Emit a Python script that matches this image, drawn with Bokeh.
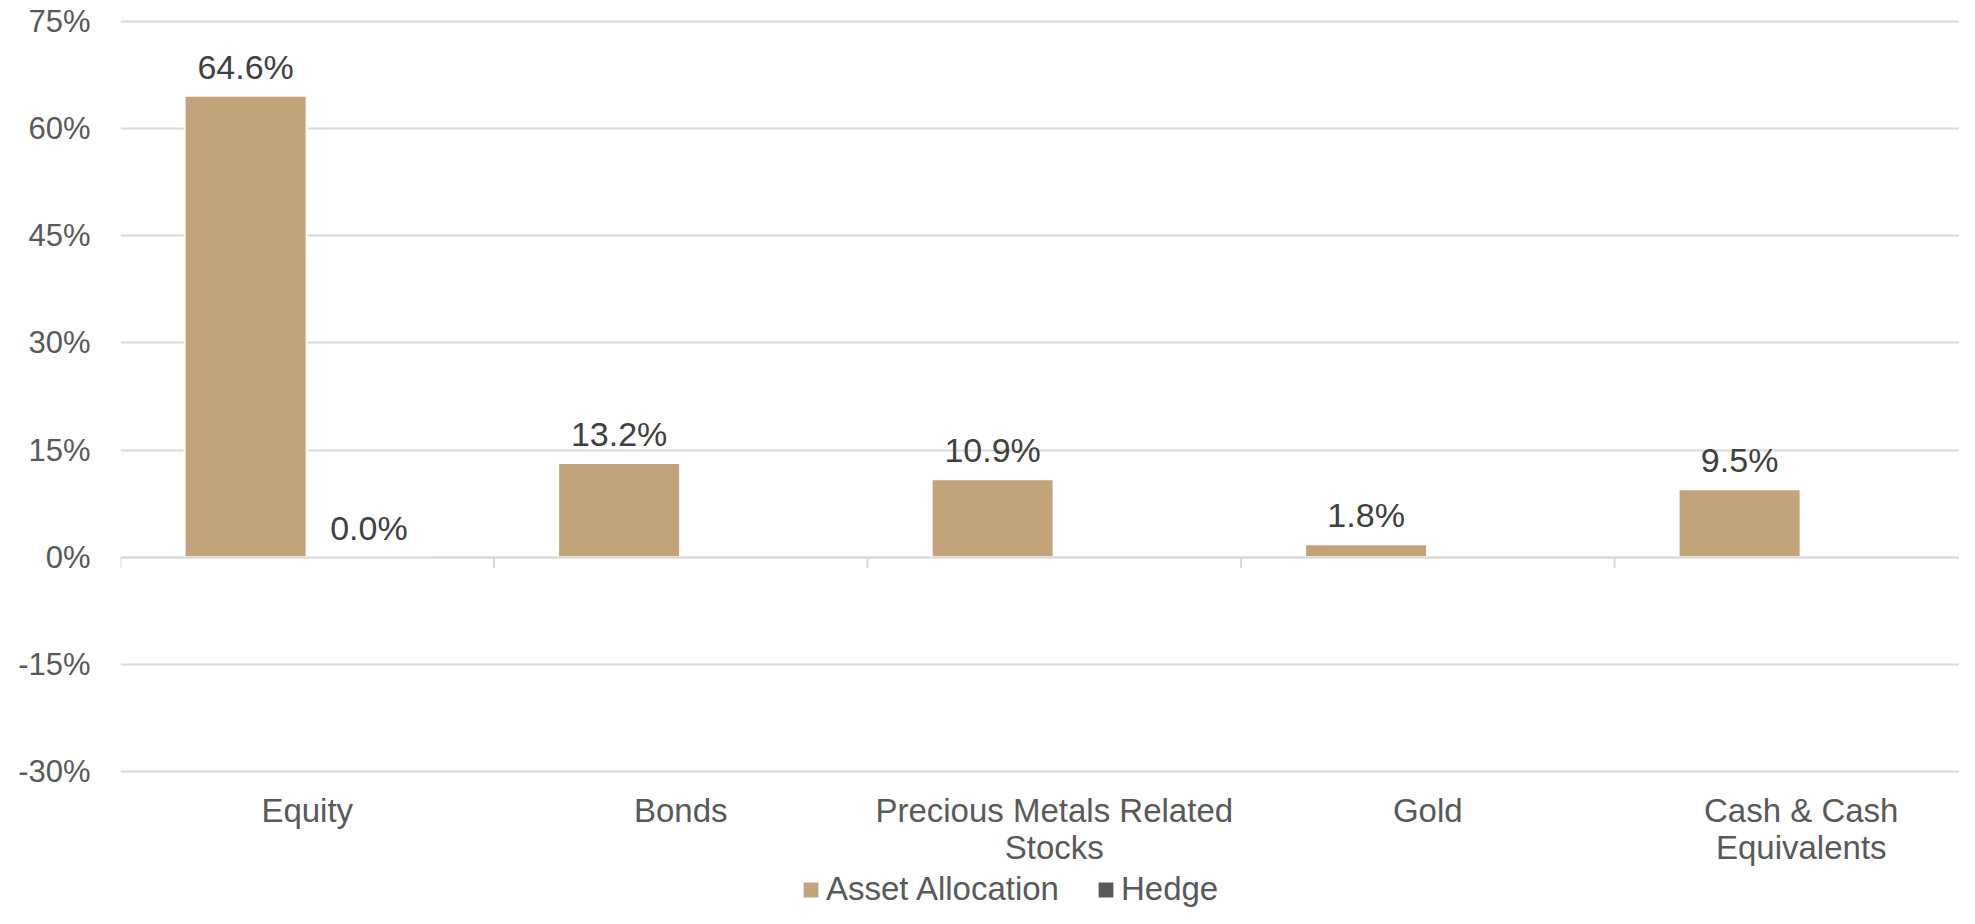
from bokeh.plotting import figure
from bokeh.models import Range1d, FixedTicker, Legend, LegendItem, ColumnDataSource
from bokeh.embed import file_html
from bokeh.resources import INLINE
from bokeh.core.properties import value

# ---------------- data ----------------
categories = ["Equity", "Bonds", "Precious Metals Related\nStocks", "Gold", "Cash & Cash\nEquivalents"]
asset_allocation = [64.6, 13.2, 10.9, 1.8, 9.5]
hedge = [0.0, float("nan"), float("nan"), float("nan"), float("nan")]
y_ticks = [-30, -15, 0, 15, 30, 45, 60, 75]
y_tick_labels = ["-30%", "-15%", "0%", "15%", "30%", "45%", "60%", "75%"]
series_names = ["Asset Allocation", "Hedge"]
series_colors = ["#C3A37C", "#595959"]

# ---------------- layout ----------------
W, H = 1959, 908
left_px = 120            # frame left edge
grid_top_px = 21         # position of the top gridline
grid_px = 750            # pixels between bottom and top gridline
cat_px = 373.5           # width of one category
pad_px = 2
top_px = grid_top_px - pad_px
frame_w = W - left_px
frame_h = H - top_px
y_min, y_max = y_ticks[0], y_ticks[-1]
ppu = grid_px / (y_max - y_min)
y_top = y_max + pad_px / ppu
y_bottom = y_top - frame_h / ppu
x_end = frame_w / cat_px

FONT = value("Liberation Sans")

p = figure(width=W, height=H, x_range=Range1d(0, x_end), y_range=Range1d(y_bottom, y_top),
           output_backend="svg", toolbar_location=None, x_axis_location=None,
           min_border_left=left_px, min_border_right=0, min_border_top=top_px,
           min_border_bottom=0, outline_line_color=None,
           background_fill_color="white", border_fill_color="white")

n = len(categories)
centers = [i + 0.5 for i in range(n)]
offset = 0.165
bar_w = 122 / cat_px

src = ColumnDataSource(dict(
    xa=[c - offset for c in centers], xh=[c + offset for c in centers],
    a=asset_allocation, h=hedge,
    la=[f"{v:.1f}%" for v in asset_allocation],
    lh=["" if v != v else f"{v:.1f}%" for v in hedge],
))

r_a = p.vbar(x="xa", top="a", bottom=0, width=bar_w, source=src,
             fill_color=series_colors[0], line_color="white", line_width=2)
r_h = p.vbar(x="xh", top="h", bottom=0, width=bar_w, source=src,
             fill_color=series_colors[1], line_color="white", line_width=2)

# category axis line at 0 and separator ticks
p.hspan(y=[0], line_color="#D9D9D9", line_width=2)
tick_len = 11 / ppu
bounds = list(range(n + 1))
p.segment(x0=bounds, x1=bounds, y0=[0] * len(bounds), y1=[-tick_len] * len(bounds),
          line_color="#D9D9D9", line_width=2)

# data labels
for xcol, ycol, lcol in (("xa", "a", "la"), ("xh", "h", "lh")):
    p.text(x=xcol, y=ycol, text=lcol, source=src, text_align="center", text_baseline="middle",
           y_offset=-29, text_font=FONT, text_font_size="34px", text_color="#404040")

# category labels below the plot area
p.text(x=centers, y=[y_min] * n, text=categories, text_align="center", text_baseline="top",
       y_offset=20, text_font=FONT, text_font_size="33px", text_color="#595959",
       text_line_height=1.0)

# y axis
p.yaxis.ticker = FixedTicker(ticks=y_ticks)
p.yaxis.major_label_overrides = {t: l for t, l in zip(y_ticks, y_tick_labels)}
p.yaxis.axis_line_color = None
p.yaxis.major_tick_line_color = None
p.yaxis.minor_tick_line_color = None
p.yaxis.major_tick_in = 0
p.yaxis.major_tick_out = 0
p.yaxis.major_label_standoff = 30
p.yaxis.major_label_text_font = "Liberation Sans"
p.yaxis.major_label_text_font_size = "31px"
p.yaxis.major_label_text_color = "#595959"

# grid
p.xgrid.grid_line_color = None
p.ygrid.ticker = FixedTicker(ticks=y_ticks)
p.ygrid.grid_line_color = "#D9D9D9"
p.ygrid.grid_line_width = 2

# legend
legend = Legend(items=[LegendItem(label=series_names[0], renderers=[r_a]),
                       LegendItem(label=series_names[1], renderers=[r_h])],
                orientation="horizontal", location=(680, 0),
                glyph_width=21, glyph_height=21, label_height=21,
                label_standoff=5, spacing=36,
                padding=0, margin=0, border_line_color=None, background_fill_alpha=0,
                label_text_font="Liberation Sans", label_text_font_size="33px",
                label_text_color="#595959")
p.add_layout(legend)

open("out.html", "w").write(file_html(p, INLINE))
